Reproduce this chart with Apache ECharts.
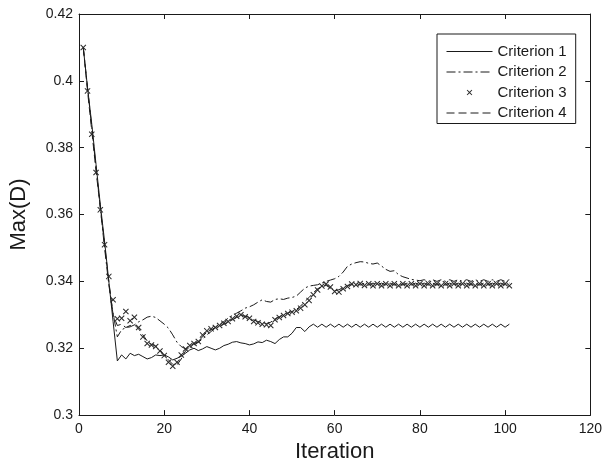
<!DOCTYPE html>
<html>
<head>
<meta charset="utf-8">
<script src="https://cdn.jsdelivr.net/npm/echarts@6/dist/echarts.min.js"></script>
<style>
html,body{margin:0;padding:0;background:#fff;}
#chart{width:605px;height:468px;}
</style>
</head>
<body>
<div id="chart"></div>
<script>
// ---- data ----
const iterations = [1,2,3,4,5,6,7,8,9,10,11,12,13,14,15,16,17,18,19,20,21,22,23,24,25,26,27,28,29,30,31,32,33,34,35,36,37,38,39,40,41,42,43,44,45,46,47,48,49,50,51,52,53,54,55,56,57,58,59,60,61,62,63,64,65,66,67,68,69,70,71,72,73,74,75,76,77,78,79,80,81,82,83,84,85,86,87,88,89,90,91,92,93,94,95,96,97,98,99,100,101];

const criterion1 = [0.410,0.398,0.387,0.375,0.363,0.352,0.340,0.328,0.3162,0.3180,
0.3168,0.3185,0.3178,0.3182,0.3175,0.3168,0.3172,0.3180,0.3178,0.3180,
0.3174,0.3165,0.3170,0.3176,0.3185,0.3195,0.3200,0.3193,0.3198,0.3205,
0.3200,0.3195,0.3200,0.3208,0.3212,0.3218,0.3220,0.3216,0.3214,0.3210,
0.3213,0.3219,0.3217,0.3224,0.3220,0.3214,0.3226,0.3234,0.3234,0.3245,
0.3262,0.3262,0.3250,0.3264,0.3272,0.3263,0.3272,0.3263,0.3272,0.3263,
0.3272,0.3263,0.3272,0.3263,0.3272,0.3263,0.3272,0.3263,0.3272,0.3263,
0.3272,0.3263,0.3272,0.3263,0.3272,0.3263,0.3272,0.3263,0.3272,0.3263,
0.3272,0.3263,0.3272,0.3263,0.3272,0.3263,0.3272,0.3263,0.3272,0.3263,
0.3272,0.3263,0.3272,0.3263,0.3272,0.3263,0.3272,0.3263,0.3272,0.3263,
0.3272];

const criterion2 = [0.410,0.398,0.386,0.374,0.362,0.350,0.339,0.3305,0.3234,0.3255,
0.3262,0.3264,0.3270,0.3279,0.3285,0.3293,0.3296,0.3292,0.3282,0.3272,
0.3260,0.3240,0.3218,0.3205,0.3198,0.3202,0.3210,0.3218,0.3228,0.3240,
0.3250,0.3262,0.3272,0.3280,0.3290,0.3298,0.3305,0.3312,0.3320,0.3324,
0.3330,0.3338,0.3345,0.3340,0.3338,0.3346,0.3348,0.3346,0.3350,0.3352,
0.3356,0.3368,0.3380,0.3386,0.3388,0.3390,0.3395,0.3400,0.3404,0.3408,
0.3415,0.3428,0.3445,0.3452,0.3456,0.3459,0.3458,0.3454,0.3452,0.3455,
0.3446,0.3436,0.3430,0.3432,0.3420,0.3414,0.3410,0.3406,0.3404,0.3402,
0.3405,0.3400,0.3405,0.3400,0.3405,0.3400,0.3405,0.3400,0.3405,0.3400,
0.3405,0.3400,0.3405,0.3400,0.3405,0.3400,0.3405,0.3400,0.3405,0.3400,
0.3405];

const criterion3 = [0.410,0.397,0.384,0.3726,0.3614,0.351,0.3415,0.3345,0.3288,0.3290,
0.3310,0.3282,0.3293,0.3262,0.3234,0.3214,0.3210,0.3205,0.3192,0.3178,
0.3158,0.3146,0.3158,0.3180,0.3198,0.3208,0.3214,0.3220,0.3240,0.3252,
0.3258,0.3262,0.3268,0.3275,0.3280,0.3288,0.3296,0.3300,0.3294,0.3290,
0.3280,0.3276,0.3272,0.3270,0.3268,0.3285,0.3292,0.3298,0.3304,0.3308,
0.3312,0.3320,0.3330,0.3343,0.3360,0.3374,0.3386,0.3392,0.3383,0.3370,
0.3368,0.3378,0.3385,0.3392,0.3390,0.3394,0.3388,0.3393,0.3387,0.3393,
0.3387,0.3393,0.3387,0.3393,0.3387,0.3393,0.3387,0.3393,0.3387,0.3393,
0.3387,0.3393,0.3387,0.3393,0.3387,0.3393,0.3387,0.3393,0.3387,0.3393,
0.3387,0.3393,0.3387,0.3393,0.3387,0.3393,0.3387,0.3393,0.3387,0.3393,
0.3387];

const criterion4 = [0.410,0.397,0.385,0.373,0.362,0.351,0.340,0.3300,0.3268,0.3272,
0.3262,0.3268,0.3270,0.3258,0.3240,0.3222,0.3212,0.3206,0.3195,0.3180,
0.3165,0.3152,0.3150,0.3168,0.3192,0.3205,0.3215,0.3218,0.3235,0.3248,
0.3255,0.3262,0.3266,0.3272,0.3278,0.3285,0.3292,0.3298,0.3296,0.3292,
0.3285,0.3280,0.3276,0.3274,0.3278,0.3288,0.3294,0.3300,0.3305,0.3310,
0.3316,0.3326,0.3340,0.3352,0.3366,0.3378,0.3384,0.3388,0.3380,0.3372,
0.3375,0.3382,0.3388,0.3390,0.3395,0.3389,0.3395,0.3389,0.3395,0.3389,
0.3395,0.3389,0.3395,0.3389,0.3395,0.3389,0.3395,0.3389,0.3395,0.3389,
0.3395,0.3389,0.3395,0.3389,0.3395,0.3389,0.3395,0.3389,0.3395,0.3389,
0.3395,0.3389,0.3395,0.3389,0.3395,0.3389,0.3395,0.3389,0.3395,0.3389,
0.3395];

const seriesNames = ['Criterion 1','Criterion 2','Criterion 3','Criterion 4'];
const xTicks = [0,20,40,60,80,100,120];
const yTicks = [0.3,0.32,0.34,0.36,0.38,0.4,0.42];

// ---- chart ----
const pairs = arr => iterations.map((x,i)=>[x,arr[i]]);
const FONT = '"Liberation Sans", Arial, sans-serif';
const INK = '#1a1a1a';
const xMark = 'path://M0,0Z M20,20Z M5,6.2L6.2,5L10,8.8L13.8,5L15,6.2L11.2,10L15,13.8L13.8,15L10,11.2L6.2,15L5,13.8L8.8,10Z';
const dashDot = [9,3,2,3];
const dashed = [8,4];

const chart = echarts.init(document.getElementById('chart'), null, {renderer:'canvas'});
const axisCommon = {
  axisLine:{show:true, onZero:false, lineStyle:{color:INK, width:1}},
  axisTick:{show:true, inside:true, length:5, lineStyle:{color:INK}},
  splitLine:{show:false}
};
const hiddenSym = {opacity:0, color:'rgba(0,0,0,0)', borderWidth:0};
chart.setOption({
  animation:false,
  backgroundColor:'#fff',
  grid:{left:77, right:12, top:14, bottom:49, show:false},
  legend:{
    left:437, top:34, orient:'vertical',
    data:[
      {name:seriesNames[0], itemStyle:hiddenSym, lineStyle:{width:1, color:INK, type:'solid'}},
      {name:seriesNames[1], itemStyle:hiddenSym, lineStyle:{width:1, color:INK, type:dashDot}},
      {name:seriesNames[2], lineStyle:{width:0, opacity:0}},
      {name:seriesNames[3], itemStyle:hiddenSym, lineStyle:{width:1, color:INK, type:dashed}}
    ],
    itemWidth:46, itemHeight:14, itemGap:5.5,
    padding:[10,9,3,9],
    borderColor:INK, borderWidth:1, backgroundColor:'#fff',
    textStyle:{fontFamily:FONT, fontSize:15, color:INK}
  },
  xAxis:[
    Object.assign({type:'value', min:xTicks[0], max:xTicks[xTicks.length-1], interval:20,
      position:'bottom',
      name:'Iteration', nameLocation:'middle', nameGap:24,
      nameTextStyle:{fontFamily:FONT, fontSize:22, color:INK},
      axisLabel:{fontFamily:FONT, fontSize:14, color:INK, margin:7}}, axisCommon),
    Object.assign({type:'value', min:xTicks[0], max:xTicks[xTicks.length-1], interval:20,
      position:'top', axisLabel:{show:false}}, axisCommon)
  ],
  yAxis:[
    Object.assign({type:'value', min:yTicks[0], max:yTicks[yTicks.length-1], interval:0.02,
      position:'left',
      name:'Max(D)', nameLocation:'middle', nameGap:49,
      nameTextStyle:{fontFamily:FONT, fontSize:22, color:INK},
      axisLabel:{fontFamily:FONT, fontSize:14, color:INK, margin:6,
        formatter:v=>String(+v.toFixed(2))}}, axisCommon),
    Object.assign({type:'value', min:yTicks[0], max:yTicks[yTicks.length-1], interval:0.02,
      position:'right', axisLabel:{show:false}}, axisCommon)
  ],
  series:[
    {name:seriesNames[0], type:'line', data:pairs(criterion1), symbol:'none',
      lineStyle:{color:INK, width:1, type:'solid'}, itemStyle:{color:INK}},
    {name:seriesNames[1], type:'line', data:pairs(criterion2), symbol:'none',
      lineStyle:{color:INK, width:1, type:dashDot}, itemStyle:{color:INK}},
    {name:seriesNames[2], type:'line', data:pairs(criterion3), symbol:xMark, symbolSize:12,
      showAllSymbol:true,
      lineStyle:{color:INK, width:0, opacity:0}, itemStyle:{color:'#2a2a2a'}},
    {name:seriesNames[3], type:'line', data:pairs(criterion4), symbol:'none',
      lineStyle:{color:INK, width:1, type:dashed}, itemStyle:{color:INK}}
  ]
});
</script>
</body>
</html>
